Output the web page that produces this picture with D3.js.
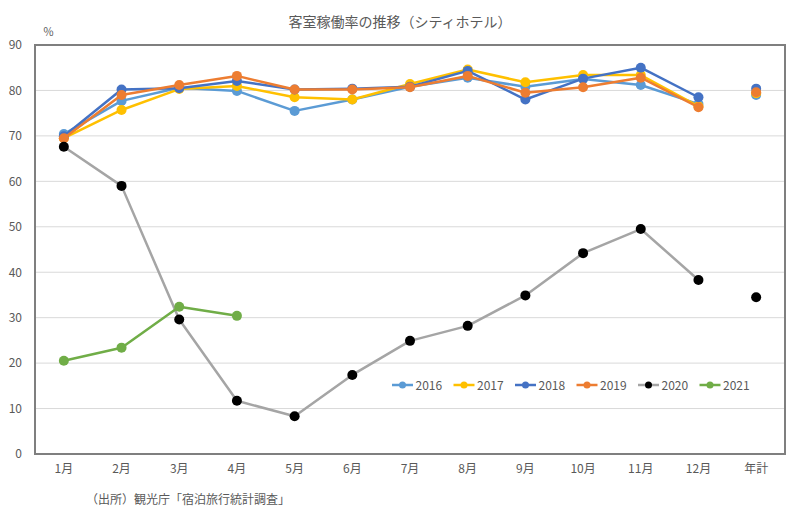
<!DOCTYPE html>
<html><head><meta charset="utf-8">
<script src="https://cdn.jsdelivr.net/npm/d3@7"></script>
<style>body{margin:0;background:#fff}svg{display:block}text{font-family:"Noto Sans CJK JP","Noto Sans",sans-serif;fill:#595959}</style>
</head><body><svg id="c" width="800" height="514"></svg>
<script>
const categories = ["1月","2月","3月","4月","5月","6月","7月","8月","9月","10月","11月","12月","年計"];
const years = ["2016","2017","2018","2019","2020","2021"];
const v2016 = [70.4,77.7,80.6,79.9,75.5,78.0,80.8,82.8,80.8,82.5,81.2,77.0,79.0];
const v2017 = [69.5,75.7,80.3,81.0,78.5,78.0,81.4,84.6,81.8,83.4,83.4,76.5,79.4];
const v2018 = [69.9,80.2,80.5,82.1,80.2,80.4,80.8,84.3,78.0,82.6,85.0,78.5,80.4];
const v2019 = [69.5,79.0,81.2,83.2,80.2,80.2,80.7,83.2,79.5,80.7,82.8,76.3,79.6];
const v2020 = [67.6,59.0,29.6,11.7,8.3,17.4,24.9,28.2,34.9,44.2,49.5,38.3,34.5];
const v2021 = [20.5,23.4,32.4,30.4,null,null,null,null,null,null,null,null,null];
const yTicks = [0,10,20,30,40,50,60,70,80,90];
const lineColors = ["#5B9BD5","#FFC000","#4472C4","#ED7D31","#A5A5A5","#70AD47"];
const markerColors = ["#5B9BD5","#FFC000","#4472C4","#ED7D31","#000000","#70AD47"];
const seriesValues = [v2016,v2017,v2018,v2019,v2020,v2021];

const svg = d3.select("#c");
const L=35,R=785,T=45,B=454;
const x = d3.scaleBand().domain(categories).range([L,R]);
const y = d3.scaleLinear().domain([0,90]).range([B,T]);

svg.append("text").attr("x",400).attr("y",27).attr("text-anchor","middle")
  .style("font-size","14px").text("客室稼働率の推移（シティホテル）");
svg.append("text").attr("x",43).attr("y",36).style("font-size","11px").text("％");

svg.append("g").selectAll("line").data(yTicks.filter(t=>t>0&&t<90)).join("line")
  .attr("x1",L).attr("x2",R).attr("y1",d=>y(d)).attr("y2",d=>y(d))
  .attr("stroke","#d9d9d9").attr("stroke-width",1);

const yAxis = d3.axisLeft(y).tickValues(yTicks).tickSize(0).tickPadding(13);
const ga = svg.append("g").attr("transform",`translate(${L},0)`).call(yAxis);
ga.select(".domain").remove();
ga.selectAll("text").style("font-size","12px").style("font-family",'"Noto Sans CJK JP",sans-serif').attr("fill","#595959");

const xAxis = d3.axisBottom(x).tickSize(0).tickPadding(8);
const gx = svg.append("g").attr("transform",`translate(0,${B+2})`).call(xAxis);
gx.select(".domain").remove();
gx.selectAll("text").style("font-size","12px").style("font-family",'"Noto Sans CJK JP",sans-serif').attr("fill","#595959");

svg.append("rect").attr("x",L).attr("y",T).attr("width",R-L).attr("height",B-T)
  .attr("fill","none").attr("stroke","#7f7f7f").attr("stroke-width",2);

const cx = c => x(c)+x.bandwidth()/2;
const line = d3.line().defined(d=>d.v!=null).x(d=>cx(d.c)).y(d=>y(d.v));

seriesValues.forEach((vals,i)=>{
  const pts = vals.map((v,j)=>({c:categories[j],v:v}));
  const monthly = pts.slice(0,12);
  const g = svg.append("g");
  g.append("path").datum(monthly).attr("d",line).attr("fill","none")
    .attr("stroke",lineColors[i]).attr("stroke-width",2.5).attr("stroke-linejoin","round");
  g.selectAll("circle").data(pts.filter(d=>d.v!=null)).join("circle")
    .attr("cx",d=>cx(d.c)).attr("cy",d=>y(d.v)).attr("r",5).attr("fill",markerColors[i]);
});

const lg = svg.append("g");
years.forEach((yr,i)=>{
  const x0 = 392 + i*61.5;
  lg.append("line").attr("x1",x0).attr("x2",x0+21).attr("y1",385).attr("y2",385)
    .attr("stroke",lineColors[i]).attr("stroke-width",2.5);
  lg.append("circle").attr("cx",x0+10.5).attr("cy",385).attr("r",3.5).attr("fill",markerColors[i]);
  lg.append("text").attr("x",x0+23.5).attr("y",389.5).style("font-size",'12px').text(yr);
});

svg.append("text").attr("x",86).attr("y",504).style("font-size","12px").text("（出所）観光庁「宿泊旅行統計調査」");
</script></body></html>
